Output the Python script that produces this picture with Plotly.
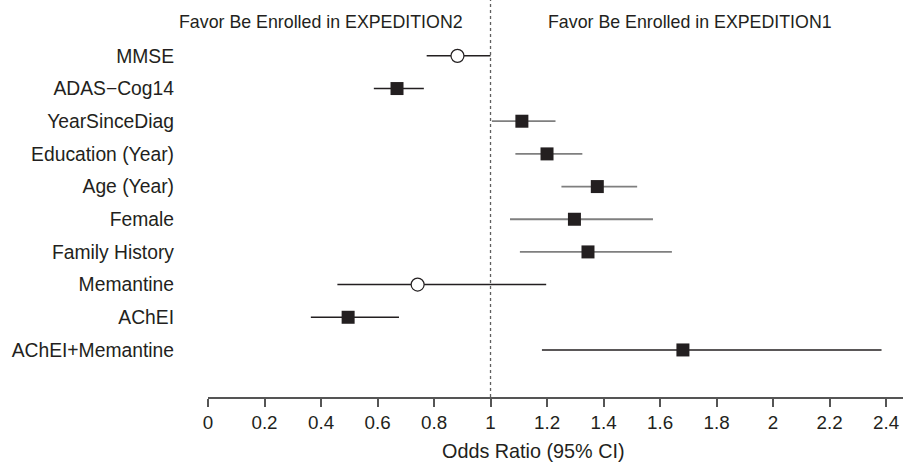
import plotly.graph_objects as go

categories = ["MMSE", "ADAS\u2212Cog14", "YearSinceDiag", "Education (Year)", "Age (Year)",
              "Female", "Family History", "Memantine", "AChEI", "AChEI+Memantine"]
odds_ratio = [0.883, 0.669, 1.111, 1.200, 1.378, 1.297, 1.345, 0.742, 0.496, 1.681]
ci_low = [0.774, 0.587, 1.005, 1.088, 1.251, 1.069, 1.104, 0.458, 0.364, 1.182]
ci_high = [1.000, 0.764, 1.230, 1.325, 1.519, 1.575, 1.642, 1.197, 0.676, 2.384]
group = ["circle", "black", "gray", "gray", "gray", "gray", "gray", "circle", "black", "black"]
tick_vals = [0, 0.2, 0.4, 0.6, 0.8, 1, 1.2, 1.4, 1.6, 1.8, 2, 2.2, 2.4]
tick_text = ["0", "0.2", "0.4", "0.6", "0.8", "1", "1.2", "1.4", "1.6", "1.8", "2", "2.2", "2.4"]
header_left = "Favor Be Enrolled in EXPEDITION2"
header_right = "Favor Be Enrolled in EXPEDITION1"
x_title = "Odds Ratio (95% CI)"

n = len(categories)
ypos = [n - i for i in range(n)]

FONT = "Liberation Sans, Arial, Helvetica, sans-serif"
TXT = "#231f20"

styles = {
    "gray": dict(line="#7f7f7f", symbol="square", fill="#231f20", mline="#231f20"),
    "black": dict(line="#231f20", symbol="square", fill="#231f20", mline="#231f20"),
    "circle": dict(line="#231f20", symbol="circle", fill="white", mline="#231f20"),
}

fig = go.Figure()
for g in ["gray", "black", "circle"]:
    idx = [i for i in range(n) if group[i] == g]
    st = styles[g]
    fig.add_trace(go.Scatter(
        x=[odds_ratio[i] for i in idx],
        y=[ypos[i] for i in idx],
        mode="markers",
        marker=dict(symbol=st["symbol"], size=13, color=st["fill"],
                    line=dict(color=st["mline"], width=1.2 if g == "circle" else 0)),
        error_x=dict(type="data", symmetric=False,
                     array=[ci_high[i] - odds_ratio[i] for i in idx],
                     arrayminus=[odds_ratio[i] - ci_low[i] for i in idx],
                     width=0, thickness=1.8 if g == "gray" else 1.5, color=st["line"]),
        showlegend=False, hoverinfo="skip",
    ))

fig.add_shape(type="line", x0=1, x1=1, y0=0, y1=1, xref="x", yref="paper",
              line=dict(color="#5f5f5f", width=1.3, dash="3px,3px"), layer="below")

fig.add_annotation(x=0.908, y=11.03, xref="x", yref="y", text=header_left, showarrow=False,
                   xanchor="right", yanchor="middle", font=dict(family=FONT, size=17.8, color=TXT))
fig.add_annotation(x=1.198, y=11.03, xref="x", yref="y", text=header_right, showarrow=False,
                   xanchor="left", yanchor="middle", font=dict(family=FONT, size=17.8, color=TXT))
fig.add_annotation(x=1.153, y=0, xref="x", yref="paper", yshift=-54, text=x_title, showarrow=False,
                   xanchor="center", yanchor="middle", font=dict(family=FONT, size=19.8, color=TXT))

fig.update_layout(
    width=905, height=465,
    margin=dict(l=208, r=2, t=0, b=68),
    paper_bgcolor="white", plot_bgcolor="white",
    font=dict(family=FONT, size=18.8, color=TXT),
    xaxis=dict(range=[0, 2.46], tickvals=tick_vals, ticktext=tick_text,
               showgrid=False, zeroline=False, showline=True, linecolor="#555555", linewidth=1.5,
               ticks="outside", ticklen=8, tickwidth=1.5, tickcolor="#555555",
               tickfont=dict(family=FONT, size=18.8, color=TXT), fixedrange=True),
    yaxis=dict(range=[-0.44, 11.71], tickvals=ypos, ticktext=categories,
               showgrid=False, zeroline=False, showline=False, ticks="",
               ticklabelstandoff=33, tickfont=dict(family=FONT, size=19.3, color=TXT), fixedrange=True),
)

fig.write_html("out.html")
